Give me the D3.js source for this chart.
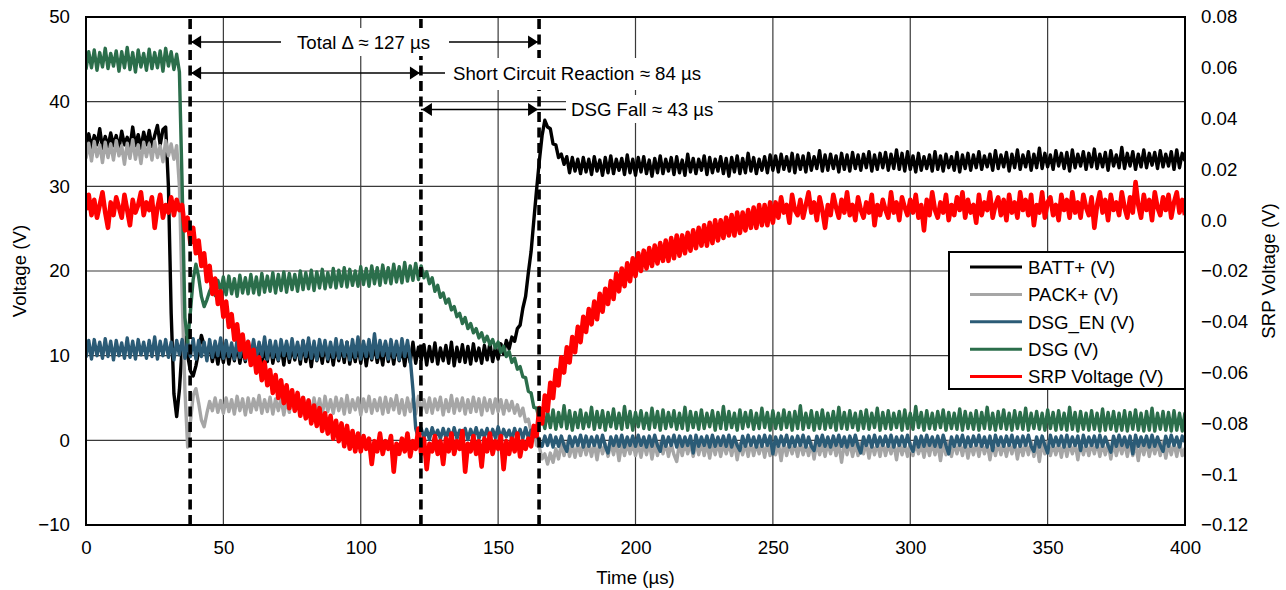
<!DOCTYPE html>
<html><head><meta charset="utf-8">
<script src="https://cdn.jsdelivr.net/npm/d3@7"></script>
<style>
body{margin:0;background:#fff;}
text{font-family:"Liberation Sans",Arial,sans-serif;fill:#000;}
</style>
</head><body>
<svg id="chart" width="1286" height="590"></svg>
<script>
// ---------------- DATA ----------------
const SAMPLE_US = 1; // one sample per microsecond, index 0..400
const xTickValues = [0, 50, 100, 150, 200, 250, 300, 350, 400];
const leftTickValues = [-10, 0, 10, 20, 30, 40, 50];
const rightTickValues = [0.08, 0.06, 0.04, 0.02, 0, -0.02, -0.04, -0.06, -0.08, -0.1, -0.12];
const rightTickLabels = ["0.08", "0.06", "0.04", "0.02", "0.0", "\u22120.02", "\u22120.04", "\u22120.06", "\u22120.08", "\u22120.1", "\u22120.12"];
const seriesNames = ["BATT+ (V)", "PACK+ (V)", "DSG_EN (V)", "DSG (V)", "SRP Voltage (V)"];
const seriesColors = ["#000000", "#a6a6a6", "#2b5b76", "#2b6e4b", "#ff0000"];
const markerTimes = [37.9, 121.9, 164.9];
const annotationLabels = ["Total \u0394 \u2248 127 \u00b5s", "Short Circuit Reaction \u2248 84 \u00b5s", "DSG Fall \u2248 43 \u00b5s"];

const battPlus = [
35.0,36.2,34.6,36.0,34.9,36.8,34.5,35.9,34.7,36.3,
34.8,36.0,34.4,36.5,34.9,35.8,34.6,37.0,34.8,36.1,
34.5,36.4,34.9,36.6,34.7,36.0,37.2,34.9,36.7,
37.0,30.0,15.0,5.5,2.8,6.0,11.0,12.2,10.0,8.2,7.6,8.8,10.5,12.4,11.2,10.1,
11.2,9.3,10.9,9.0,11.0,
9.2,11.3,9.0,11.0,9.4,11.4,9.1,10.9,9.3,11.5,
9.0,11.1,9.5,11.3,8.8,11.0,9.3,11.6,9.1,10.8,
9.4,11.2,8.9,11.4,9.2,11.0,9.5,11.3,9.0,11.7,
9.3,11.1,8.7,11.2,9.4,10.9,9.1,11.5,9.3,11.0,
8.9,11.3,9.4,11.1,9.2,11.6,9.0,10.9,9.3,11.2,
9.1,11.4,8.8,11.0,9.5,11.3,9.2,10.8,8.9,11.5,
9.3,11.1,9.0,11.4,9.4,11.0,8.8,11.2,9.2,11.6,
9.1,11.0,9.5,11.3,8.9,11.1,9.3,11.5,9.0,10.9,
9.4,11.2,9.1,11.6,8.8,11.0,9.3,11.3,9.2,11.1,
9.0,11.4,9.4,10.9,9.1,11.2,9.5,11.5,9.3,11.0,
9.6,
11.4,10.2,11.8,10.8,12.2,11.7,13.2,13.6,15.6,17.0,19.8,22.3,26.0,29.6,33.0,36.0,
37.8,37.0,36.8,35.0,34.9,33.4,33.8,32.6,33.5,
31.6,33.4,31.8,33.2,
31.5,33.4,31.7,33.2,31.4,33.5,31.8,33.1,31.3,33.4,
31.6,33.6,31.5,33.2,31.9,33.3,31.4,33.7,31.6,33.2,
31.3,33.4,31.7,33.5,31.5,33.1,31.2,33.3,31.6,33.6,
31.5,33.2,31.8,33.4,31.4,33.5,31.6,33.1,31.3,33.8,
31.7,33.3,31.5,33.2,31.9,33.6,31.4,33.4,31.6,33.2,
31.8,33.5,31.5,33.3,31.2,33.4,31.7,33.6,31.5,33.3,
31.6,33.9,31.8,33.4,31.5,33.2,31.9,33.5,31.6,33.7,
31.9,33.6,31.7,33.8,32.0,33.5,31.8,33.9,31.6,33.7,
32.0,33.6,31.7,33.9,31.9,33.5,32.1,34.2,31.8,33.7,
31.9,33.8,32.1,33.6,31.7,33.9,32.0,33.7,31.8,34.0,
32.1,33.7,31.9,33.8,32.2,34.1,31.8,33.7,32.0,33.9,
32.2,34.0,31.9,33.8,32.1,34.3,32.0,33.9,31.8,34.1,
32.0,33.6,31.7,33.9,31.9,33.5,32.1,33.7,31.8,34.1,
32.0,33.6,31.8,33.8,32.2,33.5,31.9,34.0,31.7,33.7,
32.1,33.9,31.9,33.7,32.2,34.1,32.0,33.6,32.3,33.8,
31.9,34.2,32.1,33.7,32.3,34.0,31.8,33.8,32.2,34.3,
32.0,33.7,32.3,34.1,31.9,33.8,32.2,34.5,32.1,33.9,
32.3,33.7,32.0,34.2,32.4,33.9,32.1,34.0,31.8,34.3,
32.2,33.8,32.4,34.1,32.0,33.9,32.3,34.4,32.1,33.8,
32.3,34.0,31.9,34.2,32.4,33.7,32.2,34.6,32.1,33.9,
32.4,34.1,32.0,33.8,32.3,34.3,32.2,33.9,32.5,34.0,
32.1,34.2,32.3,33.8,32.4,34.1,32.0,34.3,32.2,33.9,
33.0];

const packPlus = [
33.3,35.1,33.0,35.3,33.5,34.9,32.8,35.2,33.4,35.0,
33.1,35.4,33.6,34.8,32.6,35.1,33.3,35.5,33.2,34.9,
32.7,35.2,33.5,35.0,33.1,35.3,33.4,34.8,32.9,35.4,
33.6,35.0,33.2,34.8,
30.0,17.0,6.0,-0.8,2.2,5.3,6.1,4.4,2.4,1.6,3.2,
4.6,3.5,5.0,3.3,4.7,
3.2,5.0,3.4,4.8,3.1,5.2,3.5,4.9,3.0,5.0,
3.3,4.9,3.6,5.3,3.2,4.8,3.4,5.1,3.1,4.9,
3.5,5.0,3.0,4.8,3.3,5.4,3.4,4.9,3.2,5.1,
3.6,4.8,3.1,5.0,3.3,4.9,3.0,5.2,3.4,4.8,
3.2,5.1,3.5,4.9,3.1,5.3,3.3,4.8,3.6,5.0,
3.0,4.9,3.4,5.2,3.2,4.8,3.5,5.0,3.1,5.1,
3.3,4.9,3.6,5.3,3.2,4.8,3.0,5.0,3.4,4.9,
3.1,5.2,3.5,4.8,3.3,5.0,3.2,4.9,3.6,5.1,
3.0,4.8,3.4,5.3,3.2,4.9,3.5,5.0,3.1,4.8,
3.3,5.1,3.4,4.9,3.0,5.0,3.5,4.8,3.2,4.9,
3.4,4.8,3.1,4.7,3.5,4.6,3.2,4.2,2.9,3.8,
2.2,2.5,1.0,1.2,-0.6,-0.8,-2.2,-1.6,-2.8,-1.5,-2.6,-1.0,-2.2,
-0.4,-1.8,-0.3,-1.9,-0.5,-2.0,-0.4,
-1.8,-0.2,-1.7,-0.4,-1.9,-0.3,-2.3,-0.2,-1.6,-0.4,
-1.9,-0.3,-1.7,-0.2,-2.4,-0.4,-1.8,-0.3,-1.6,-0.2,
-1.8,-0.4,-2.0,-0.3,-1.7,-0.2,-2.2,-0.4,-1.8,-0.3,
-1.6,-0.2,-1.9,-0.4,-1.7,-2.5,-0.3,-1.8,-0.2,-1.6,
-0.4,-1.9,-0.3,-1.7,-0.2,-1.8,-0.4,-2.1,-0.3,-1.7,
-0.2,-1.9,-0.4,-1.6,-0.3,-1.8,-0.2,-2.3,-0.4,-1.7,
-0.3,-1.9,-0.2,-1.8,-0.4,-1.6,-0.3,-2.0,-0.2,-1.8,
-0.4,-1.7,-0.3,-2.4,-0.2,-1.8,-0.4,-1.6,-0.3,-1.9,
-0.2,-1.7,-0.4,-1.8,-0.3,-2.2,-0.2,-1.7,-0.4,-1.9,
-0.3,-1.6,-0.2,-1.8,-0.4,-2.6,-0.3,-1.7,-0.2,-1.9,
-0.4,-1.8,-0.3,-1.6,-0.2,-2.1,-0.4,-1.7,-0.3,-1.9,
-0.2,-1.8,-0.4,-1.6,-0.3,-2.3,-0.2,-1.7,-0.4,-1.9,
-0.3,-1.8,-0.2,-1.6,-0.4,-2.0,-0.3,-1.8,-0.2,-1.7,
-0.4,-2.4,-0.3,-1.7,-0.2,-1.9,-0.4,-1.6,-0.3,-1.8,
-0.2,-2.1,-0.4,-1.7,-0.3,-1.9,-0.2,-1.6,-0.4,-2.3,
-0.3,-1.8,-0.2,-1.7,-0.4,-1.9,-0.3,-1.6,-0.2,-2.2,
-0.4,-1.8,-0.3,-1.7,-0.2,-1.9,-0.4,-2.5,-0.3,-1.6,
-0.2,-1.8,-0.4,-1.7,-0.3,-2.0,-0.2,-1.9,-0.4,-1.6,
-0.3,-2.3,-0.2,-1.7,-0.4,-1.8,-0.3,-1.6,-0.2,-1.9,
-0.4,-1.7,-0.3,-2.2,-0.2,-1.8,-0.4,-1.6,-0.3,-1.9,
-0.2,-1.8,-0.4,-2.4,-0.3,-1.7,-0.2,-1.9,-0.4,-1.6,
-0.3,-1.8,-0.2,-2.1,-0.4,-1.7,-0.3,-1.9,-0.2,-1.8,
-0.9];

const dsgEn = [
9.8,11.8,9.6,11.9,10.0,11.6,9.7,12.0,9.9,11.7,
9.5,11.8,10.0,11.5,9.7,12.1,9.8,11.7,9.6,11.9,
10.1,11.6,9.7,11.8,9.9,12.2,9.6,11.7,10.0,11.9,
9.8,11.6,9.5,11.8,10.1,11.9,9.7,11.7,9.9,12.0,
9.6,11.8,9.9,11.6,9.4,11.9,9.8,11.7,10.0,12.1,
9.7,11.8,9.9,11.5,9.6,11.9,9.8,12.0,9.5,11.7,
10.0,11.9,9.7,11.6,9.9,12.2,9.6,11.8,9.8,11.7,
9.5,11.9,10.0,11.7,9.7,12.0,9.8,11.6,9.6,11.8,
9.9,12.1,9.7,11.7,9.5,11.9,10.0,11.8,9.6,11.6,
9.8,12.0,9.7,11.8,9.9,11.6,9.5,11.9,9.8,12.2,
9.6,11.7,9.9,11.9,9.7,12.6,9.8,11.8,10.0,11.7,
9.6,11.9,9.8,11.7,9.5,12.0,9.9,11.8,9.7,
6.0,1.4,
0.2,1.4,0.3,1.3,0.1,1.5,0.4,1.2,0.2,1.4,
0.3,1.3,0.0,1.5,0.2,1.2,0.4,1.4,0.1,1.3,
0.3,1.5,0.2,1.2,0.4,1.4,0.1,1.3,0.3,1.6,
0.2,1.3,0.4,1.2,0.1,1.4,0.3,1.3,0.2,1.5,
0.3,1.2,0.4,
0.8,-0.2,
-0.7,0.5,-0.6,0.6,-0.8,0.4,-0.7,0.5,-0.6,-1.3,
0.5,-0.7,0.4,-0.6,0.6,-0.8,0.5,-0.7,0.4,-0.6,
0.5,-0.8,0.6,-0.7,-1.5,0.4,-0.6,0.5,-0.7,0.6,
-0.8,0.4,-0.6,0.5,-0.7,0.6,-0.6,0.4,-0.8,0.5,
-0.7,0.6,-0.6,-1.3,0.5,-0.7,0.4,-0.6,0.6,-0.8,
0.5,-0.7,0.4,-0.6,0.5,-1.5,0.6,-0.7,0.4,-0.6,
0.5,-0.8,0.6,-0.7,0.4,-0.6,0.5,-0.7,0.6,-0.8,
0.4,-0.6,-1.2,0.5,-0.7,0.6,-0.6,0.4,-0.8,0.5,
-0.7,0.6,-0.6,0.5,-1.6,0.4,-0.7,0.5,-0.6,0.6,
-0.8,0.4,-0.7,0.5,-0.6,0.6,-0.8,0.4,-0.7,-1.2,
0.5,-0.6,0.6,-0.7,0.4,-0.8,0.5,-0.6,0.6,-0.7,
0.4,-0.8,0.5,-0.6,0.6,-0.7,-1.5,0.4,-0.6,0.5,
-0.8,0.6,-0.7,0.4,-0.6,0.5,-0.7,0.6,-0.8,0.4,
-0.6,0.5,-0.7,0.6,-0.6,-1.3,0.4,-0.8,0.5,-0.7,
0.6,-0.6,0.4,-0.7,0.5,-0.8,0.6,-0.6,-1.6,0.4,
-0.7,0.5,-0.6,0.6,-0.8,0.4,-0.7,0.5,-0.6,0.6,
-0.7,0.4,-0.8,0.5,-1.2,0.6,-0.6,0.4,-0.7,0.5,
-0.6,0.6,-0.8,0.4,-0.7,0.5,-0.6,0.6,-0.7,-1.3,
0.4,-0.8,0.5,-0.6,-1.5,0.6,-0.7,0.4,-0.6,0.5,
-0.8,0.6,-0.7,0.4,-0.6,0.5,-1.2,0.6,-0.7,0.4,
-0.6,0.5,-0.8,0.6,-0.7,0.4,-0.6,-1.4,0.5,-0.7,
0.6,-0.6,0.4,-0.8,0.5,-1.6,0.6,-0.7,0.4,-0.6,
0.5,-0.8,0.6,-0.7,0.4,-0.6,-1.3,0.5,-0.7,0.6,
-0.6,0.4,-0.8,0.5,-0.2];

const dsg = [
43.8,45.9,44.0,46.1,43.7,45.8,44.1,46.3,43.9,45.7,
44.2,46.0,43.6,45.9,44.0,46.4,43.8,45.8,43.5,46.1,
44.1,45.7,43.7,46.2,43.9,45.8,44.0,46.0,43.6,46.3,
44.2,45.9,43.8,45.6,
43.5,30.0,14.5,11.6,15.2,19.0,20.8,19.3,17.0,15.8,16.6,17.6,18.3,17.1,18.9,17.6,
19.3,17.2,19.4,17.3,19.1,17.0,19.5,17.4,19.2,17.3,
19.6,17.4,19.3,17.2,19.7,17.5,19.4,17.6,19.8,17.4,
19.6,17.7,19.9,17.5,19.7,17.8,19.6,17.6,20.0,17.8,
19.8,17.9,20.1,17.7,19.9,18.0,20.2,17.9,19.8,18.1,
20.3,18.0,20.1,18.2,20.4,18.1,20.2,18.3,20.0,18.2,
20.5,18.4,20.3,18.2,20.6,18.5,20.4,18.3,20.7,18.6,
20.4,18.5,20.8,18.7,20.5,18.6,21.0,18.8,20.6,18.9,
20.9,19.0,
20.6,19.2,19.9,18.5,19.2,17.6,18.3,16.9,17.4,16.2,
16.7,15.4,15.8,14.6,15.0,13.8,14.5,13.2,13.8,12.7,
13.2,12.1,12.7,11.6,12.3,11.3,11.9,10.9,11.6,10.4,
11.1,9.9,10.5,9.2,9.7,8.4,8.7,7.5,7.4,5.8,
5.6,3.9,3.8,2.4,2.8,
1.4,3.4,1.5,3.6,1.3,3.3,1.6,4.1,1.4,3.5,
1.2,3.3,1.5,3.6,1.4,3.2,1.6,3.9,1.3,3.4,
1.5,3.5,1.2,3.3,1.6,3.7,1.4,3.2,1.3,4.0,
1.5,3.4,1.2,3.3,1.6,3.5,1.4,3.2,1.3,3.8,
1.5,3.4,1.2,3.6,1.4,3.3,1.6,3.5,1.3,3.2,
1.4,3.9,1.2,3.4,1.5,3.3,1.3,3.6,1.4,3.2,
1.6,3.5,1.2,3.3,1.4,4.0,1.3,3.4,1.5,3.2,
1.2,3.6,1.4,3.3,1.6,3.5,1.3,3.2,1.4,3.8,
1.5,3.3,1.2,3.5,1.4,3.2,1.3,3.6,1.5,3.3,
1.2,3.4,1.4,4.1,1.3,3.2,1.5,3.5,1.2,3.3,
1.4,3.6,1.3,3.2,1.5,3.4,1.2,3.9,1.4,3.3,
1.3,3.5,1.5,3.2,1.2,3.4,1.4,3.6,1.3,3.2,
1.5,3.8,1.2,3.3,1.4,3.5,1.3,3.2,1.5,3.4,
1.2,3.6,1.4,3.2,1.3,4.0,1.5,3.3,1.2,3.5,
1.4,3.2,1.3,3.4,1.5,3.6,1.2,3.3,1.4,3.2,
1.3,3.7,1.2,3.4,1.4,3.2,1.3,3.5,1.2,3.3,
1.4,3.9,1.3,3.2,1.2,3.4,1.4,3.6,1.3,3.2,
1.2,3.5,1.4,3.3,1.3,3.8,1.2,3.2,1.4,3.4,
1.3,3.2,1.2,3.6,1.4,3.3,1.2,3.5,1.3,3.2,
1.2,3.9,1.3,3.3,1.1,3.4,1.3,3.2,1.2,3.5,
1.3,3.2,1.1,3.7,1.2,3.3,1.3,3.4,1.1,3.2,
1.2,3.5,1.1,3.3,1.3,3.6,1.2,3.2,1.1,3.4,
1.2,3.8,1.1,3.2,1.3,3.4,1.2,3.3,1.1,3.5,
1.2,3.2,1.1,3.3];

const srpVoltage = [
0.004,0.010,0.002,0.008,0.001,0.006,0.011,0.003,-0.003,0.007,
0.002,0.009,0.005,0.001,0.010,0.004,-0.002,0.008,0.003,0.006,
0.011,0.002,0.007,0.004,0.009,-0.003,0.005,0.010,0.001,0.006,
0.003,0.009,0.002,0.008,0.004,
0.006,-0.004,0.001,-0.009,-0.003,-0.013,-0.008,-0.018,-0.013,-0.024,
-0.018,-0.029,-0.023,-0.033,-0.028,-0.038,-0.032,-0.042,-0.037,-0.047,
-0.041,-0.051,-0.045,-0.054,-0.048,-0.057,-0.051,-0.060,-0.054,-0.063,
-0.056,-0.065,-0.059,-0.068,-0.061,-0.070,-0.063,-0.072,-0.065,-0.074,
-0.067,-0.075,-0.068,-0.077,-0.070,-0.078,-0.071,-0.080,-0.073,-0.081,
-0.074,-0.083,-0.076,-0.084,-0.077,-0.086,-0.079,-0.087,-0.080,-0.089,
-0.081,-0.090,-0.083,-0.091,-0.084,
-0.091,-0.085,-0.090,-0.086,-0.096,-0.087,-0.091,-0.084,-0.092,-0.087,
-0.090,-0.085,-0.099,-0.088,-0.092,-0.086,-0.091,-0.084,-0.093,-0.087,
-0.090,-0.082,-0.092,-0.086,-0.098,-0.088,-0.091,-0.085,-0.092,-0.087,
-0.096,-0.086,-0.091,-0.084,-0.092,-0.087,-0.090,-0.083,-0.099,-0.088,
-0.091,-0.085,-0.092,-0.087,-0.097,-0.086,-0.091,-0.084,-0.092,-0.087,
-0.090,-0.085,-0.098,-0.087,-0.092,-0.086,-0.091,-0.084,-0.093,-0.087,
-0.090,-0.086,-0.089,
-0.081,-0.085,-0.074,-0.080,-0.069,-0.075,-0.064,-0.070,-0.059,-0.065,
-0.054,-0.060,-0.050,-0.056,-0.046,-0.052,-0.042,-0.048,-0.038,-0.044,
-0.035,-0.041,-0.032,-0.039,-0.029,-0.036,-0.027,-0.033,-0.024,-0.031,
-0.021,-0.028,-0.019,-0.026,-0.017,-0.024,-0.015,-0.022,-0.013,-0.020,
-0.012,-0.019,-0.011,-0.018,-0.010,-0.017,-0.009,-0.016,-0.008,-0.016,
-0.007,-0.015,-0.006,-0.014,-0.006,-0.013,-0.005,-0.012,-0.004,-0.011,
-0.003,-0.010,-0.002,-0.010,-0.001,-0.009,0.000,-0.008,0.000,-0.007,
0.001,-0.006,0.002,-0.006,0.003,-0.005,0.003,-0.004,0.004,-0.003,
0.005,-0.003,0.006,-0.002,0.006,-0.002,0.007,-0.001,
0.007,0.001,0.009,0.003,0.006,-0.001,0.010,0.004,0.002,0.008,
0.001,0.006,0.011,0.003,0.007,0.000,0.009,0.004,-0.003,0.006,
0.002,0.010,0.005,0.001,0.008,0.003,0.011,0.002,0.006,0.000,
0.009,0.004,0.001,0.007,0.003,0.010,-0.002,0.006,0.002,0.008,
0.004,0.001,0.011,0.003,0.007,0.000,0.009,0.005,0.002,0.008,
0.003,0.010,0.001,0.006,-0.004,0.008,0.002,0.011,0.004,0.001,
0.007,0.003,0.010,0.000,0.006,0.002,0.009,0.004,0.011,0.001,
0.008,0.003,0.006,-0.001,0.010,0.002,0.007,0.004,0.011,0.001,
0.006,0.009,0.002,0.008,0.000,0.010,0.003,0.007,0.001,0.011,
0.004,0.008,0.002,0.010,-0.002,0.006,0.003,0.011,0.001,0.007,
0.009,0.002,0.006,0.000,0.010,0.004,0.008,0.001,0.011,0.003,
0.007,0.001,0.010,0.005,0.002,0.009,-0.003,0.006,0.011,0.003,
0.008,0.000,0.010,0.004,0.007,0.002,0.011,0.005,0.001,0.009,
0.003,0.015,0.006,0.001,0.010,0.004,0.008,0.000,0.011,0.005,
0.002,0.009,0.004,0.010,0.001,0.007,0.011,0.003,0.008,0.002];

// ---------------- LAYOUT ----------------
const W = 1286, H = 590;
const M = {left: 86, right: 101, top: 17, bottom: 65};
const pw = W - M.left - M.right, ph = H - M.top - M.bottom;
const FONT = "18.67px";

const svg = d3.select("#chart");
const x = d3.scaleLinear().domain([0, 400]).range([M.left, M.left + pw]);
const yL = d3.scaleLinear().domain([-10, 50]).range([M.top + ph, M.top]);
const yR = d3.scaleLinear().domain([-0.12, 0.08]).range([M.top + ph, M.top]);

svg.append("rect").attr("width", W).attr("height", H).attr("fill", "#fff");

// grid
const grid = svg.append("g");
grid.selectAll("line.h").data(leftTickValues).join("line")
  .attr("x1", M.left).attr("x2", M.left + pw)
  .attr("y1", d => yL(d)).attr("y2", d => yL(d))
  .attr("stroke", "#3a3a3a").attr("stroke-width", 1.2);
grid.selectAll("line.v").data(xTickValues).join("line")
  .attr("y1", M.top).attr("y2", M.top + ph)
  .attr("x1", d => x(d)).attr("x2", d => x(d))
  .attr("stroke", "#3a3a3a").attr("stroke-width", 1.2);

// clip
svg.append("clipPath").attr("id", "clip").append("rect")
  .attr("x", M.left).attr("y", M.top).attr("width", pw).attr("height", ph);

const plot = svg.append("g").attr("clip-path", "url(#clip)");
const series = [
  {vals: battPlus, scale: yL, w: 3.4},
  {vals: packPlus, scale: yL, w: 3.4},
  {vals: dsgEn, scale: yL, w: 3.4},
  {vals: dsg, scale: yL, w: 3.4},
  {vals: srpVoltage, scale: yR, w: 4.6}
];
series.forEach((s, k) => {
  const line = d3.line().x((d, i) => x(i * SAMPLE_US)).y(d => s.scale(d));
  plot.append("path").attr("d", line(s.vals)).attr("fill", "none")
    .attr("stroke", seriesColors[k]).attr("stroke-width", s.w)
    .attr("stroke-linejoin", "round");
});

// dashed markers
svg.selectAll("line.mk").data(markerTimes).join("line")
  .attr("x1", d => x(d)).attr("x2", d => x(d))
  .attr("y1", M.top + 2).attr("y2", M.top + ph)
  .attr("stroke", "#000").attr("stroke-width", 3.6)
  .attr("stroke-dasharray", "10,5.5");

// annotations
const ann = svg.append("g");
function arrowHead(xTip, y, dir) {
  const L = 10, h = 6.5;
  ann.append("path")
    .attr("d", `M${xTip},${y} L${xTip - dir * L},${y - h} L${xTip - dir * L},${y + h} Z`)
    .attr("fill", "#000");
}
function hline(x1, x2, y) {
  ann.append("line").attr("x1", x1).attr("x2", x2).attr("y1", y).attr("y2", y)
    .attr("stroke", "#000").attr("stroke-width", 1.4);
}
function label(txt, xStart, y, box) {
  ann.append("rect").attr("x", box[0]).attr("y", box[1])
    .attr("width", box[2] - box[0]).attr("height", box[3] - box[1]).attr("fill", "#fff");
  ann.append("text").attr("x", xStart).attr("y", y).attr("font-size", FONT).text(txt);
}
// Row 1: Total
const r1 = 42;
hline(x(markerTimes[0]), 281, r1);
hline(449, x(markerTimes[2]), r1);
arrowHead(x(markerTimes[0]) + 1, r1, -1);
arrowHead(x(markerTimes[2]) - 1, r1, 1);
label(annotationLabels[0], 297, r1 + 6.7, [281, 28, 449, 56]);
// Row 2: Short circuit
const r2 = 73;
hline(x(markerTimes[0]), 445, r2);
arrowHead(x(markerTimes[0]) + 1, r2, -1);
arrowHead(x(markerTimes[1]) - 1, r2, 1);
label(annotationLabels[1], 453, r2 + 6.7, [445, 58, 714, 90]);
// Row 3: DSG fall
const r3 = 109.5;
hline(x(markerTimes[1]), 566, r3);
arrowHead(x(markerTimes[1]) + 1, r3, -1);
arrowHead(x(markerTimes[2]) - 1, r3, 1);
label(annotationLabels[2], 571, r3 + 6.7, [566, 95, 718, 123]);

// axes (labels only)
const axL = svg.append("g").attr("transform", `translate(${M.left},0)`)
  .call(d3.axisLeft(yL).tickValues(leftTickValues).tickSize(0).tickPadding(16));
const axR = svg.append("g").attr("transform", `translate(${M.left + pw},0)`)
  .call(d3.axisRight(yR).tickValues(rightTickValues).tickSize(0).tickPadding(16)
    .tickFormat((d, i) => rightTickLabels[i]));
const axB = svg.append("g").attr("transform", `translate(0,${M.top + ph})`)
  .call(d3.axisBottom(x).tickValues(xTickValues).tickSize(0).tickPadding(16));
[axL, axR, axB].forEach(a => {
  a.select(".domain").remove();
  a.selectAll("text").attr("font-size", FONT).attr("font-family", '"Liberation Sans",Arial,sans-serif').attr("fill", "#000");
});

// frame
svg.append("rect").attr("x", M.left).attr("y", M.top).attr("width", pw).attr("height", ph)
  .attr("fill", "none").attr("stroke", "#000").attr("stroke-width", 2);

// axis titles
svg.append("text").attr("transform", `translate(26,${M.top + ph / 2}) rotate(-90)`)
  .attr("text-anchor", "middle").attr("font-size", FONT).text("Voltage (V)");
svg.append("text").attr("transform", `translate(1275,${M.top + ph / 2}) rotate(-90)`)
  .attr("text-anchor", "middle").attr("font-size", FONT).text("SRP Voltage (V)");
svg.append("text").attr("x", M.left + pw / 2).attr("y", 584)
  .attr("text-anchor", "middle").attr("font-size", FONT).text("Time (\u00b5s)");

// legend
const lg = svg.append("g");
lg.append("rect").attr("x", 949).attr("y", 252).attr("width", 236).attr("height", 137)
  .attr("fill", "#fff").attr("stroke", "#000").attr("stroke-width", 2);
seriesNames.forEach((n, i) => {
  const yy = 267 + i * 27.4;
  lg.append("line").attr("x1", 970).attr("x2", 1022).attr("y1", yy).attr("y2", yy)
    .attr("stroke", seriesColors[i]).attr("stroke-width", 3);
  lg.append("text").attr("x", 1028).attr("y", yy + 6.7).attr("font-size", FONT).text(n);
});
</script>
</body></html>
